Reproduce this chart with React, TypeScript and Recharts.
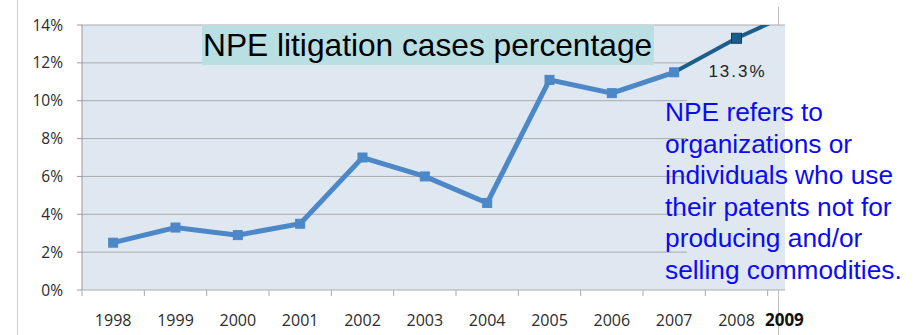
import { LineChart, Line, XAxis, YAxis, CartesianGrid, LabelList } from "recharts";

// yearly share of patent litigation cases brought by NPEs (%)
const years = ["1998", "1999", "2000", "2001", "2002", "2003", "2004", "2005", "2006", "2007", "2008", "2009"];
const npeShare = [2.5, 3.3, 2.9, 3.5, 7.0, 6.0, 4.6, 11.1, 10.4, 11.5, null, null];
const npeShareLatest = [null, null, null, null, null, null, null, null, null, 11.5, 13.3, 14.8];
const yTicks = [0, 2, 4, 6, 8, 10, 12, 14];
const calloutYear = "2008";

const rows = years.map((year, i) => ({ year, share: npeShare[i], latest: npeShareLatest[i] }));

const PLOT_BG = "#dfe7f0";
const GRID = "#a8abae";
const MAIN = "#4c87c7";
const DARK = "#1d5d8c";
const FONT = "'Open Sans', 'Liberation Sans', sans-serif";

const PLOT_TOP = 25;
const PLOT_BOTTOM = 290;
const SHADE_RIGHT = 785; // background panel ends here
const INNER_GRID_RIGHT = 687; // inner grid lines stop under the highlighted years

function YearTick(props: any) {
  const { x, y, payload } = props;
  const half = payload.offset || 31.15;
  const last = payload.value === years[years.length - 1];
  return (
    <g>
      <line x1={x - half} x2={x - half} y1={y - 8} y2={y - 2} stroke={GRID} />
      <text
        x={last ? x + 5 : x}
        y={y + 28}
        textAnchor={last ? "end" : "middle"}
        fontFamily={FONT}
        fontSize={last ? 17 : 16}
        fontWeight={last ? 700 : 400}
        fill={last ? "#111" : "#2b2b2b"}
      >
        {payload.value}
      </text>
    </g>
  );
}

function GridLine(p: any) {
  const edge = Math.abs(p.y1 - PLOT_TOP) < 1 || Math.abs(p.y1 - PLOT_BOTTOM) < 1;
  const right = Math.min(p.x2, edge ? SHADE_RIGHT : INNER_GRID_RIGHT);
  return <line key={p.key} x1={p.x1} x2={right} y1={p.y1} y2={p.y2} stroke={GRID} strokeWidth={1} />;
}

function squareDot(size: number, fill: string, stroke: string, only?: number) {
  return (p: any) => {
    if (p.cy == null || (only !== undefined && p.index !== only)) return <g key={`d-${p.index}`} />;
    return (
      <rect
        key={`d-${p.index}`}
        x={p.cx - size / 2}
        y={p.cy - size / 2}
        width={size}
        height={size}
        fill={fill}
        stroke={stroke}
        strokeWidth={1}
      />
    );
  };
}

const calloutIndex = years.indexOf(calloutYear);

export default function App() {
  return (
    <div style={{ position: "absolute", left: 0, top: 0, width: 914, height: 335, background: "#fff", overflow: "hidden", fontFamily: FONT }}>
      {/* frame of the embedded chart */}
      <div style={{ position: "absolute", left: 17, top: 0, width: 1, height: 335, background: "#cfcfcf" }} />
      <div style={{ position: "absolute", left: 778, top: 7, width: 1, height: 328, background: "#bdbdbd" }} />

      <div style={{ position: "absolute", left: 0, top: 0 }}>
        <LineChart width={914} height={335} data={rows} margin={{ top: PLOT_TOP, right: 84, bottom: 0, left: 0 }}>
          <CartesianGrid vertical={false} horizontal={GridLine} fill={PLOT_BG} fillOpacity={1} />
          <XAxis
            dataKey="year"
            scale="band"
            height={335 - PLOT_BOTTOM}
            axisLine={false}
            tickLine={false}
            tickSize={6}
            tickMargin={2}
            tick={<YearTick />}
            interval={0}
          />
          <YAxis
            domain={[0, 14]}
            ticks={yTicks}
            allowDataOverflow
            width={82}
            tickSize={5}
            tickMargin={14}
            axisLine={{ stroke: "#9a9a9a" }}
            tickLine={{ stroke: "#9a9a9a" }}
            tickFormatter={(v: number) => `${v}%`}
            tick={{ fill: "#2b2b2b", fontSize: 15.5, fontFamily: FONT }}
          />
          <Line
            dataKey="latest"
            stroke={DARK}
            strokeWidth={4}
            dot={squareDot(10, DARK, "#0e3e66", calloutIndex)}
            activeDot={false}
            isAnimationActive={false}
          >
            <LabelList
              dataKey="latest"
              content={(p: any) => {
                if (p.index !== calloutIndex) return null;
                const x = p.x ?? p.viewBox?.x;
                const y = p.y ?? p.viewBox?.y;
                return (
                  <text x={x + 1} y={y + 39} textAnchor="middle" fontFamily="'Liberation Sans', Arial, sans-serif" fontSize={17} letterSpacing={2} fill="#222">
                    {`${p.value}%`}
                  </text>
                );
              }}
            />
          </Line>
          <Line
            dataKey="share"
            stroke={MAIN}
            strokeWidth={5}
            dot={squareDot(9, MAIN, MAIN)}
            activeDot={false}
            isAnimationActive={false}
          />
        </LineChart>
      </div>

      {/* the plot background stops short of the last category */}
      <div style={{ position: "absolute", left: SHADE_RIGHT, top: 20, width: 50, height: PLOT_BOTTOM - 19, background: "#fff" }} />

      <div
        style={{
          position: "absolute",
          left: 202,
          top: 25,
          height: 40,
          padding: "0 2px 0 1px",
          background: "#badfe2",
          fontFamily: "'Liberation Sans', Arial, sans-serif",
          fontSize: 31.7,
          lineHeight: "40px",
          color: "#000",
          whiteSpace: "nowrap",
        }}
      >
        NPE litigation cases percentage
      </div>

      <div
        style={{
          position: "absolute",
          left: 665,
          top: 97,
          width: 249,
          fontFamily: "'Liberation Sans', Arial, sans-serif",
          fontSize: 26.3,
          lineHeight: "31.6px",
          color: "#0b0bf5",
          whiteSpace: "nowrap",
        }}
      >
        NPE refers to
        <br />
        organizations or
        <br />
        individuals who use
        <br />
        their patents not for
        <br />
        producing and/or
        <br />
        selling commodities.
      </div>
    </div>
  );
}
